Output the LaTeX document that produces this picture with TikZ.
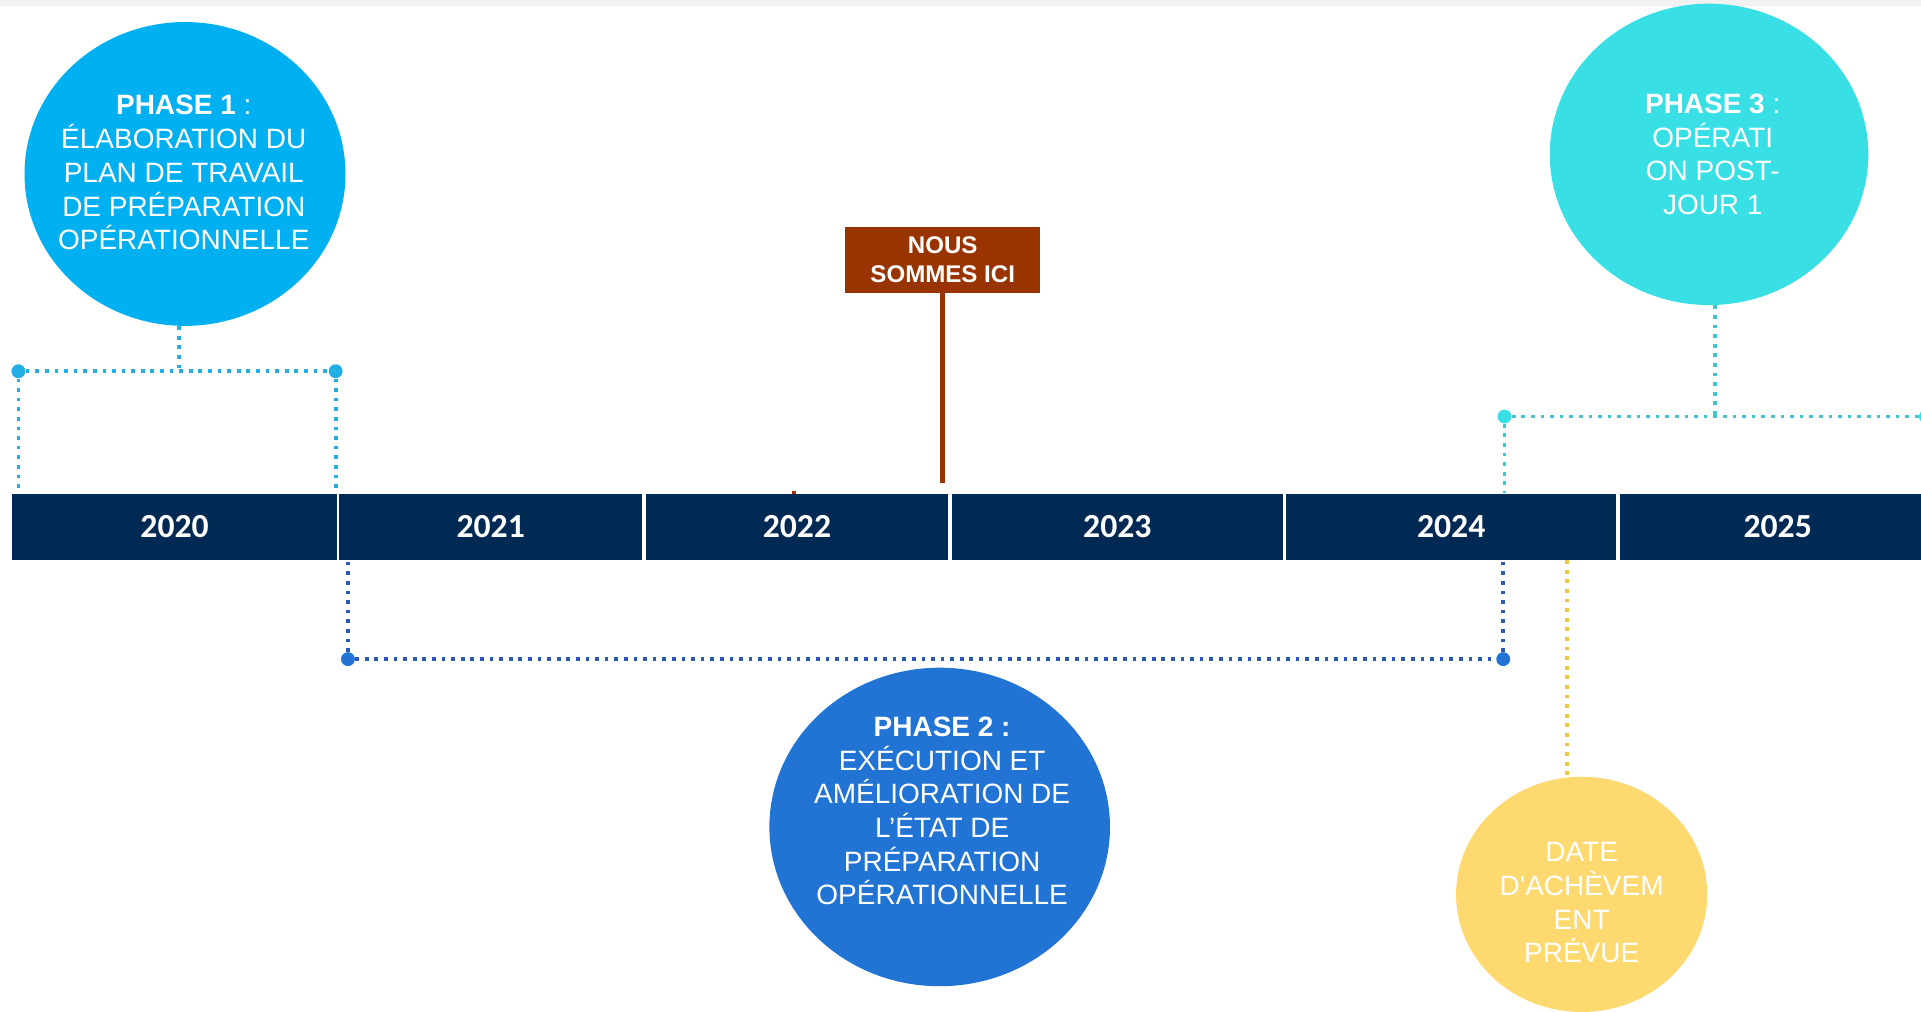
\documentclass[tikz,border=0pt]{standalone}
\usepackage{fontspec}
\newfontfamily\arial{Liberation Sans}
\newfontfamily\calibri{Carlito}
\usetikzlibrary{shapes.geometric}
\definecolor{navy}{RGB}{0,41,84}
\definecolor{cPone}{RGB}{0,176,240}
\definecolor{cPtwo}{RGB}{33,115,212}
\definecolor{cPthree}{RGB}{56,223,229}
\definecolor{cDate}{RGB}{253,217,111}
\definecolor{cHere}{RGB}{153,51,0}
\definecolor{lOne}{RGB}{36,174,230}
\definecolor{lTwo}{RGB}{44,88,184}
\definecolor{lThree}{RGB}{60,200,206}
\definecolor{lYel}{RGB}{238,198,60}
\definecolor{topgray}{RGB}{242,242,242}
\begin{document}
\begin{tikzpicture}[x=0.6pt,y=-0.6pt,
  yearbox/.style={rectangle,fill=navy,text=white,inner sep=0pt,minimum height=32.4pt,
    font=\calibri\bfseries\fontsize{16.5}{18}\selectfont},
  bubble/.style={ellipse,inner sep=0pt,draw=none},
  btext/.style={align=center,text=white,inner sep=0pt,font=\arial\fontsize{13.7}{16.5}\selectfont},
  dotline/.style={line width=1.8pt,dash pattern=on 1.8pt off 2.9pt},
  enddot/.style={circle,inner sep=0pt,minimum size=6.8pt},
  herebox/.style={rectangle,fill=cHere,text=white,inner sep=0pt,align=center,
    minimum width=95.4pt,minimum height=32.4pt,font=\arial\bfseries\fontsize{11.8}{13.8}\selectfont}
]
\useasboundingbox (0,0) rectangle (1568,826);
\fill[topgray] (0,0) rectangle (1568,5);

% year bar
\node[yearbox,minimum width=159pt]   (y2020) at (142.5,430) {2020};
\node[yearbox,minimum width=148.2pt] (y2021) at (400.5,430) {2021};
\node[yearbox,minimum width=148.2pt] (y2022) at (650.5,430) {2022};
\node[yearbox,minimum width=162pt]   (y2023) at (912,430) {2023};
\node[yearbox,minimum width=161.4pt] (y2024) at (1184.5,430) {2024};
\node[yearbox,minimum width=154.8pt] (y2025) at (1451,430) {2025};
\fill[cHere!80!red] (646.5,401) rectangle (649.5,403.5);

% bubbles
\node[bubble,fill=cPone,minimum width=157.2pt,minimum height=148.8pt] (p1) at (151,142) {};
\node[btext] (p1t) at (150,141) {\textbf{PHASE 1} :\\ÉLABORATION DU\\PLAN DE TRAVAIL\\DE PRÉPARATION\\OPÉRATIONNELLE};

\node[bubble,fill=cPtwo,minimum width=166.8pt,minimum height=156pt] (p2) at (767,675) {};
\node[btext] (p2t) at (769,662) {\textbf{PHASE 2 :}\\EXÉCUTION ET\\AMÉLIORATION DE\\L’ÉTAT DE\\PRÉPARATION\\OPÉRATIONNELLE};

\node[bubble,fill=cPthree,minimum width=156pt,minimum height=147.6pt] (p3) at (1395,126) {};
\node[btext] (p3t) at (1398,126) {\textbf{PHASE 3} :\\OPÉRATI\\ON POST-\\JOUR 1};

\node[bubble,fill=cDate,minimum width=123pt,minimum height=115.2pt] (pd) at (1291,730) {};
\node[btext] (pdt) at (1291,737) {DATE\\D'ACHÈVEM\\ENT\\PRÉVUE};

% we are here
\node[herebox] (here) at (769.5,212) {NOUS\\SOMMES ICI};
\coordinate (herept) at (769,394);
\draw[cHere,line width=2.4pt] (here.south -| herept) -- (herept);

% phase 1 connectors
\node[enddot,fill=lOne] (d1a) at (15,303) {};
\node[enddot,fill=lOne] (d1b) at (274,303) {};
\coordinate (j1) at (146,303);
\draw[dotline,lOne] (d1a) -- (d1b);
\draw[dotline,lOne] (p1.south -| j1) -- (j1);
\draw[dotline,lOne] (d1a) -- (d1a |- y2020.north);
\draw[dotline,lOne] (d1b) -- (d1b |- y2020.north);

% phase 2 connectors
\node[enddot,fill=cPtwo] (d2a) at (284,538) {};
\node[enddot,fill=cPtwo] (d2b) at (1227,538) {};
\draw[dotline,lTwo] (d2a) -- (d2b);
\draw[dotline,lTwo] (d2a) -- (d2a |- y2021.south);
\draw[dotline,lTwo] (d2b) -- (d2b |- y2024.south);

% phase 3 connectors
\node[enddot,fill=cPthree] (d3a) at (1228,340) {};
\node[enddot,fill=cPthree] (d3b) at (1572,340) {};
\coordinate (j3) at (1400,340);
\draw[dotline,lThree] (d3a) -- (d3b);
\draw[dotline,lThree] (p3.south -| j3) -- (j3);
\draw[dotline,lThree] (d3a) -- (d3a |- y2024.north);

% completion date connector
\coordinate (jy) at (1279,458);
\draw[dotline,lYel] (jy |- y2024.south) -- (jy |- pd.north);
\end{tikzpicture}
\end{document}
